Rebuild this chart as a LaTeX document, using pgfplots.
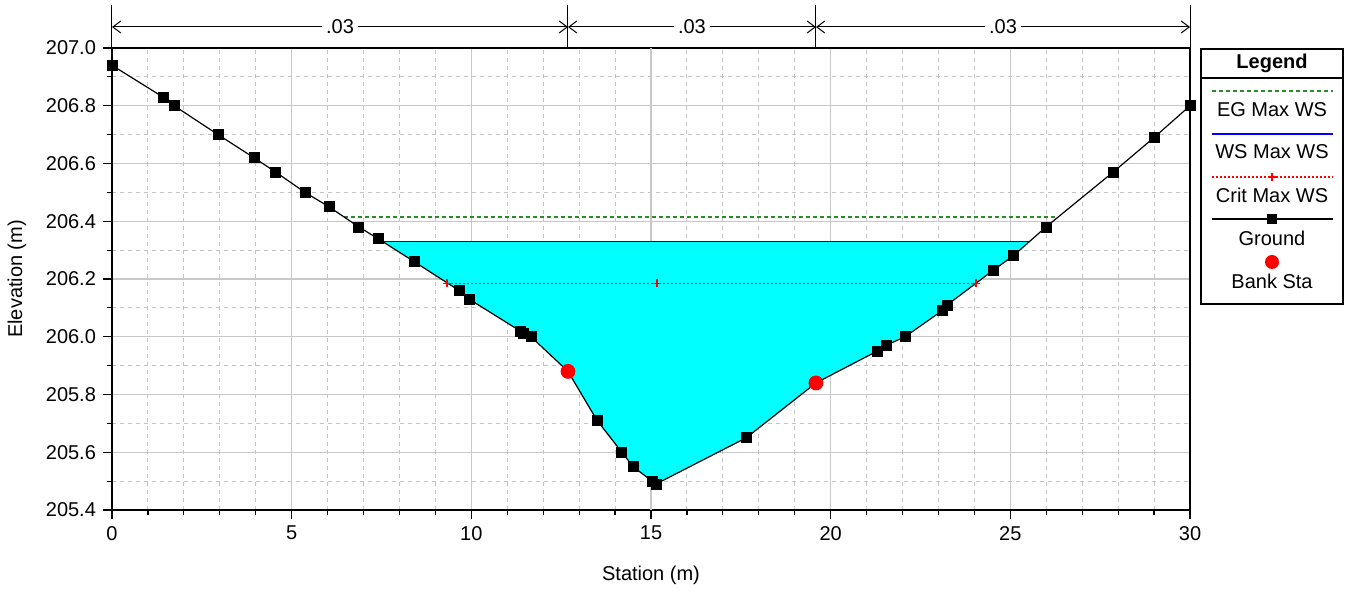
\documentclass[border=0pt]{standalone}
\usepackage{fontspec}
\setmainfont{Liberation Sans}
\usepackage{pgfplots}
\pgfplotsset{compat=1.18}
\usetikzlibrary{arrows.meta}

\definecolor{egreen}{RGB}{40,140,40}
\definecolor{gridmaj}{RGB}{200,200,200}
\definecolor{gridmin}{RGB}{195,195,195}
\definecolor{wsblue}{RGB}{0,0,255}
\definecolor{watercyan}{RGB}{0,255,255}

\begin{document}
\begin{tikzpicture}
\begin{axis}[
  name=ax,
  scale only axis, width=539pt, height=231pt,
  xmin=0, xmax=30, ymin=205.4, ymax=207.0,
  clip=false,
  xtick={0,5,10,20,25,30},
  extra x ticks={15},
  extra x tick style={grid=none},
  minor xtick={1,2,3,4,6,7,8,9,11,12,13,14,16,17,18,19,21,22,23,24,26,27,28,29},
  ytick={205.4,205.6,205.8,206.0,206.2,206.4,206.6,206.8,207.0},
  minor ytick={205.5,205.7,205.9,206.1,206.3,206.5,206.7,206.9},
  grid=both,
  major grid style={gridmaj, line width=0.6pt},
  minor grid style={gridmin, dash pattern=on 2pt off 2pt, line width=0.5pt},
  tick align=outside, tick pos=left,
  major tick length=4.5pt, minor tick length=2.5pt,
  tick style={black, line width=0.6pt},
  axis line style={black, line width=0.9pt},
  /pgf/number format/assume math mode=true,
  y tick label style={/pgf/number format/.cd, fixed, fixed zerofill, precision=1},
  x tick label style={/pgf/number format/.cd, fixed, precision=0},
  xlabel={Station (m)}, ylabel={Elevation (m)},
  xlabel style={at={(axis description cs:0.5,0)}, yshift=-32.5pt, anchor=center},
  ylabel style={at={(axis description cs:-0.0881,0.5)}, anchor=center},
]
% grid line at x = 15 (parts outside the water)
\addplot[gridmaj, line width=0.6pt, forget plot] coordinates {(15,206.33) (15,207.0)};
\addplot[gridmaj, line width=0.6pt, forget plot] coordinates {(15,205.4) (15,205.5)};
% water area
\addplot[fill=watercyan, draw=watercyan, line width=0.2pt] coordinates {
 (15.14,205.49) (17.65,205.65) (19.59,205.84)
 (21.29,205.95) (21.54,205.97) (22.07,206.00) (23.10,206.09) (23.24,206.11)
 (24.52,206.23) (25.08,206.28) (25.53,206.33)
 (7.53,206.33) (8.41,206.26) (9.66,206.16) (9.94,206.13) (11.36,206.02)
 (11.44,206.01) (11.66,206.00) (12.69,205.88) (13.50,205.71) (14.19,205.60)
 (14.50,205.55) (15.03,205.50) (15.14,205.49)
};
% EG
\addplot[egreen, line width=0.6pt, dash pattern=on 2pt off 1.5pt] coordinates {(6.45,206.415) (26.3,206.415)};
% WS
\addplot[wsblue, line width=0.7pt] coordinates {(7.53,206.33) (25.53,206.33)};
% Crit
\addplot[red, line width=0.6pt, dash pattern=on 1pt off 1pt, mark=+, mark size=2pt, mark options={red, solid, line width=0.8pt}]
 coordinates {(9.33,206.185) (15.17,206.185) (24.05,206.185)};
% Ground line
\addplot[black, line width=0.6pt, mark=none] coordinates {
 (0,206.94) (1.42,206.83) (1.73,206.80) (2.95,206.70) (3.95,206.62) (4.56,206.57)
 (5.37,206.50) (6.04,206.45) (6.87,206.38) (7.40,206.34) (8.41,206.26) (9.66,206.16)
 (9.94,206.13) (11.36,206.02) (11.44,206.01) (11.66,206.00) (12.69,205.88) (13.50,205.71)
 (14.19,205.60) (14.50,205.55) (15.03,205.50) (15.14,205.49) (17.65,205.65) (19.59,205.84)
 (21.29,205.95) (21.54,205.97) (22.07,206.00) (23.10,206.09) (23.24,206.11) (24.52,206.23)
 (25.08,206.28) (25.99,206.38) (27.86,206.57) (29.00,206.69) (30.00,206.80)
};
% Ground marks
\addplot[only marks, mark=square*, mark size=2.5pt, mark options={black, fill=black}] coordinates {
 (0,206.94) (1.42,206.83) (1.73,206.80) (2.95,206.70) (3.95,206.62) (4.56,206.57)
 (5.37,206.50) (6.04,206.45) (6.87,206.38) (7.40,206.34) (8.41,206.26) (9.66,206.16)
 (9.94,206.13) (11.36,206.02) (11.44,206.01) (11.66,206.00) (13.50,205.71)
 (14.19,205.60) (14.50,205.55) (15.03,205.50) (15.14,205.49) (17.65,205.65)
 (21.29,205.95) (21.54,205.97) (22.07,206.00) (23.10,206.09) (23.24,206.11) (24.52,206.23)
 (25.08,206.28) (25.99,206.38) (27.86,206.57) (29.00,206.69) (30.00,206.80)
};
% Bank stations
\addplot[only marks, mark=*, mark size=3.5pt, mark options={red, fill=red}] coordinates {(12.69,205.88) (19.59,205.84)};

% Manning n annotations above the plot
\draw[black, line width=0.5pt] (axis cs:0,207) -- (axis cs:0,207.149);
\draw[black, line width=0.5pt] (axis cs:12.69,207) -- (axis cs:12.69,207.149);
\draw[black, line width=0.5pt] (axis cs:19.59,207) -- (axis cs:19.59,207.149);
\draw[black, line width=0.5pt] (axis cs:30,207) -- (axis cs:30,207.149);
\draw[line width=0.5pt, {Straight Barb[length=4pt,width=6pt]}-{Straight Barb[length=4pt,width=6pt]}]
  (axis cs:0,207.0727) -- node[fill=white, inner sep=2pt]{.03} (axis cs:12.69,207.0727);
\draw[line width=0.5pt, {Straight Barb[length=4pt,width=6pt]}-{Straight Barb[length=4pt,width=6pt]}]
  (axis cs:12.69,207.0727) -- node[fill=white, inner sep=2pt]{.03} (axis cs:19.59,207.0727);
\draw[line width=0.5pt, {Straight Barb[length=4pt,width=6pt]}-{Straight Barb[length=4pt,width=6pt]}]
  (axis cs:19.59,207.0727) -- node[fill=white, inner sep=2pt]{.03} (axis cs:30,207.0727);
\end{axis}

% Legend
\begin{scope}[shift={(ax.north east)}]
\draw[black, line width=0.6pt] (5.5pt,-0.5pt) rectangle (76.5pt,-128pt);
\draw[black, line width=0.6pt] (5.5pt,-15pt) -- (76.5pt,-15pt);
\node[font=\bfseries] at (41pt,-7.5pt) {Legend};
\draw[egreen, line width=0.6pt, dash pattern=on 2pt off 1.5pt] (11pt,-21.5pt) -- (71.5pt,-21.5pt);
\node at (41pt,-31pt) {EG Max WS};
\draw[wsblue, line width=0.7pt] (11pt,-43pt) -- (71.5pt,-43pt);
\node at (41pt,-52pt) {WS Max WS};
\draw[red, line width=0.6pt, dash pattern=on 1pt off 1pt] (11pt,-64.5pt) -- (71.5pt,-64.5pt);
\draw[red, line width=0.8pt] (39pt,-64.5pt) -- (43pt,-64.5pt) (41pt,-62.5pt) -- (41pt,-66.5pt);
\node at (41pt,-73.5pt) {Crit Max WS};
\draw[black, line width=0.6pt] (11pt,-85.5pt) -- (71.5pt,-85.5pt);
\fill[black] (38.5pt,-83pt) rectangle (43.5pt,-88pt);
\node at (41pt,-95pt) {Ground};
\fill[red] (41pt,-107pt) circle (3.5pt);
\node at (41pt,-116.5pt) {Bank Sta};
\end{scope}

\pgfresetboundingbox
\path (ax.south west) ++(-56pt,-41pt) rectangle ++(674.5pt,296pt);
\end{tikzpicture}
\end{document}
